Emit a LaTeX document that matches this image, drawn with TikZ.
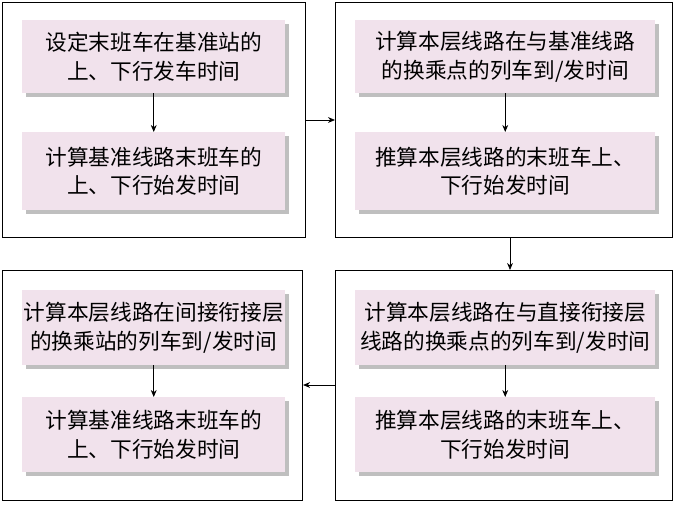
\documentclass[tikz,border=0pt]{standalone}
\usepackage{fontspec}
\setmainfont{Noto Sans CJK SC}
\usetikzlibrary{arrows.meta, shadows}
\definecolor{stepfill}{RGB}{241,226,236}
\tikzset{
  outer/.style={draw, line width=0.9pt, anchor=north west, inner sep=0pt},
  stage/.style={fill=stepfill, anchor=north west, align=center, inner sep=0pt,
    font=\fontsize{18.5}{24}\selectfont,
    drop shadow={shadow xshift=3pt, shadow yshift=-3pt, fill=black!25, opacity=1}},
  arr/.style={-{Stealth[length=6pt,width=5pt]}, line width=0.7pt}
}
\begin{document}
\begin{tikzpicture}[x=0.03cm, y=-0.03cm]
  \useasboundingbox (0,0) rectangle (675,510);
  % outer frames
  \node[outer, minimum width=303*0.03cm, minimum height=235*0.03cm] (tl) at (2,2) {};
  \node[outer, minimum width=337*0.03cm, minimum height=235*0.03cm] (tr) at (335,2) {};
  \node[outer, minimum width=300*0.03cm, minimum height=230*0.03cm] (bl) at (2,270) {};
  \node[outer, minimum width=337*0.03cm, minimum height=230*0.03cm] (br) at (335,270) {};
  % steps
  \node[stage, minimum width=263*0.03cm, minimum height=73*0.03cm] (a1) at (22,20) {设定末班车在基准站的\\上、下行发车时间};
  \node[stage, minimum width=263*0.03cm, minimum height=78*0.03cm] (a2) at (22,132) {计算基准线路末班车的\\上、下行始发时间};
  \node[stage, minimum width=300*0.03cm, minimum height=73*0.03cm] (b1) at (355,20) {计算本层线路在与基准线路\\的换乘点的列车到/发时间};
  \node[stage, minimum width=300*0.03cm, minimum height=78*0.03cm] (b2) at (355,132) {推算本层线路的末班车上、\\下行始发时间};
  \node[stage, minimum width=300*0.03cm, minimum height=75*0.03cm] (c1) at (355,290) {计算本层线路在与直接衔接层\\线路的换乘点的列车到/发时间};
  \node[stage, minimum width=300*0.03cm, minimum height=75*0.03cm] (c2) at (355,397) {推算本层线路的末班车上、\\下行始发时间};
  \node[stage, minimum width=263*0.03cm, minimum height=75*0.03cm] (d1) at (22,290) {计算本层线路在间接衔接层\\的换乘站的列车到/发时间};
  \node[stage, minimum width=263*0.03cm, minimum height=75*0.03cm] (d2) at (22,397) {计算基准线路末班车的\\上、下行始发时间};
  % arrows
  \draw[arr] (a1) -- (a2);
  \draw[arr] (b1) -- (b2);
  \draw[arr] (c1) -- (c2);
  \draw[arr] (d1) -- (d2);
  \draw[arr] (tl.east |- 0,120) -- (tr.west |- 0,120);
  \draw[arr] (tr.south -| 510,0) -- (br.north -| 510,0);
  \draw[arr] (br.west |- 0,385) -- (bl.east |- 0,385);
\end{tikzpicture}
\end{document}
